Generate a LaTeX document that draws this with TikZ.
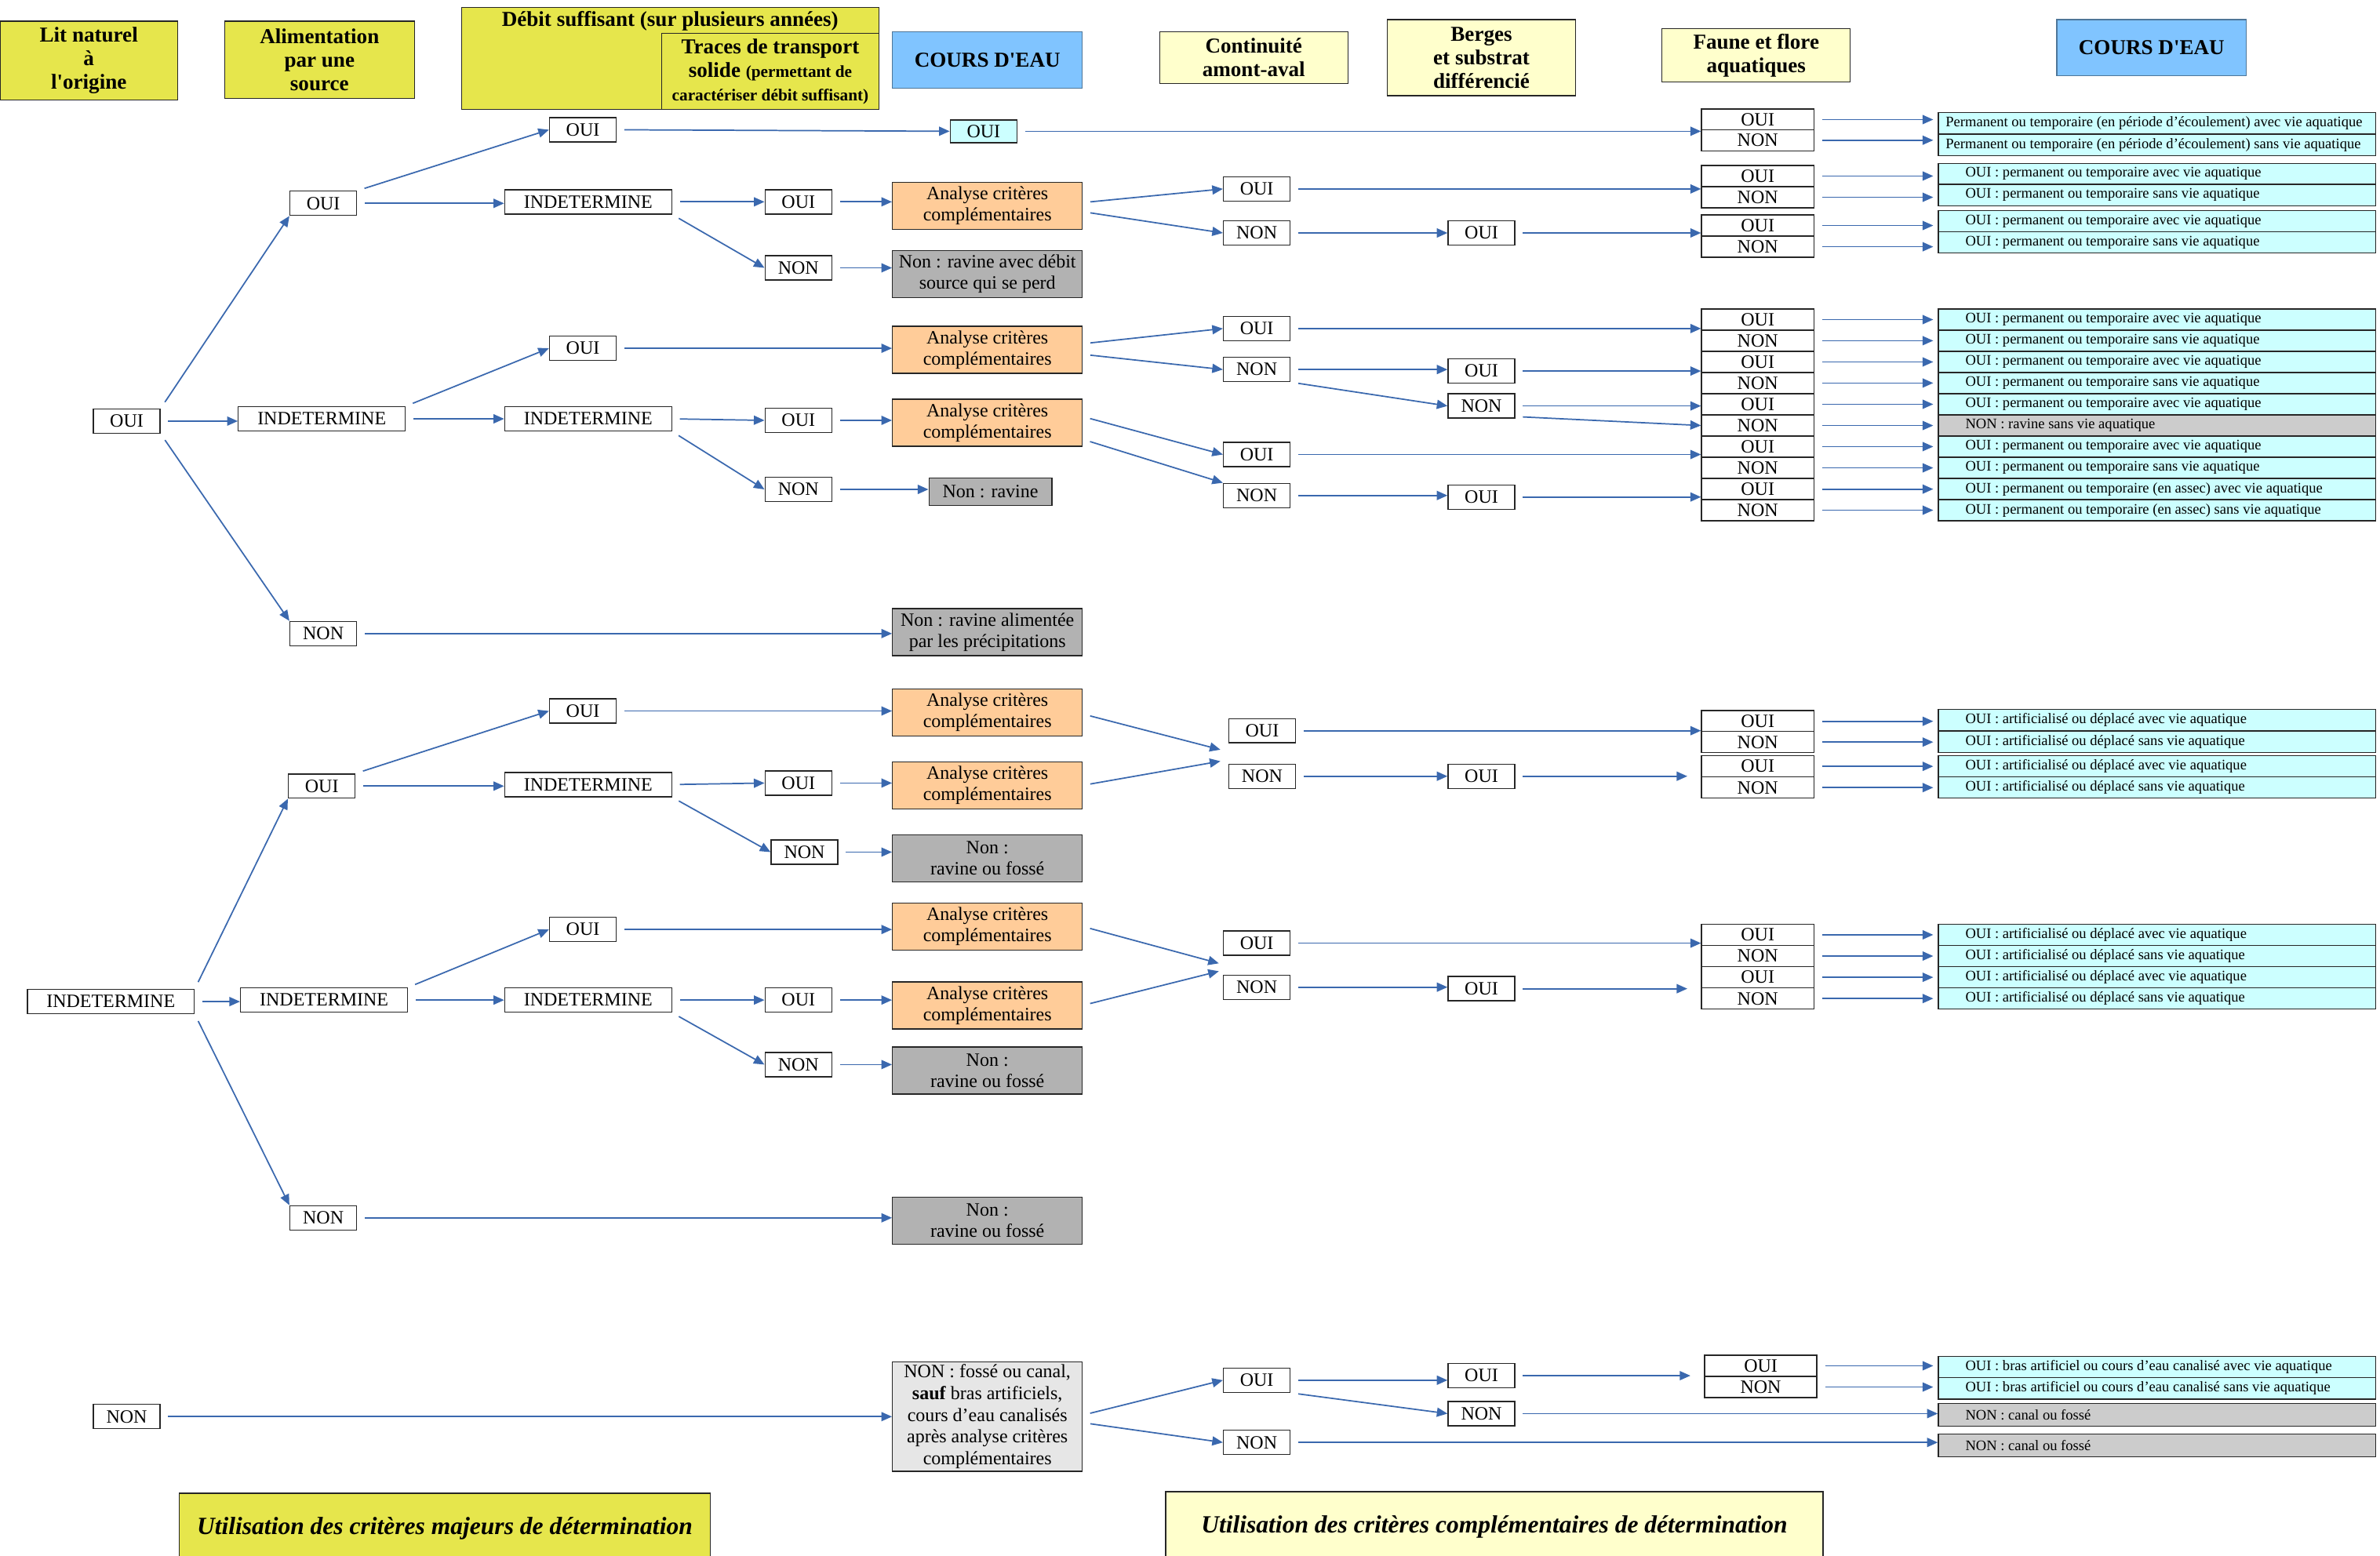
\documentclass[tikz,border=0pt]{standalone}
\usepackage{fontspec}
\setmainfont{Liberation Serif}
\usetikzlibrary{arrows.meta}
\definecolor{hy}{HTML}{E6E64C}
\definecolor{ly}{HTML}{FFFFCC}
\definecolor{hb}{HTML}{80C4FF}
\definecolor{org}{HTML}{FFCC99}
\definecolor{dg}{HTML}{B2B2B2}
\definecolor{cy}{HTML}{CCFFFF}
\definecolor{lg}{HTML}{CCCCCC}
\definecolor{vlg}{HTML}{E6E6E6}
\definecolor{ab}{HTML}{3A68AE}
\begin{document}
\begin{tikzpicture}[x=1pt,y=-1pt,
  box/.style={draw=black!85, line width=0.7pt, inner sep=0pt, align=center},
  hdr/.style={box, fill=hy, font=\fontsize{14}{15.5}\selectfont\bfseries},
  hdrl/.style={box, fill=ly, font=\fontsize{14}{15.5}\selectfont\bfseries},
  hdrb/.style={box, fill=hb, draw=hb!60!black, font=\fontsize{14}{15.5}\selectfont\bfseries},
  lbl/.style={box, fill=white, minimum width=44pt, minimum height=16pt, font=\fontsize{12.4}{14}\selectfont},
  ind/.style={lbl, minimum width=110pt},
  ana/.style={box, fill=org, minimum width=125pt, minimum height=31pt, font=\fontsize{12.4}{14}\selectfont},
  gry/.style={ana, fill=dg},
  fau/.style={box, fill=white, minimum width=74pt, minimum height=14pt, font=\fontsize{12.4}{14}\selectfont},
  res/.style={box, fill=cy, minimum width=288pt, minimum height=14pt, label={[anchor=west, inner sep=0pt, xshift=18pt, font=\fontsize{9.6}{11}\selectfont]west:{#1}}},
  resa/.style={box, fill=cy, minimum width=288pt, minimum height=14pt, label={[anchor=west, inner sep=0pt, xshift=5pt, font=\fontsize{9.6}{11}\selectfont]west:{#1}}},
  resg/.style={res={#1}, fill=lg},
  arr/.style={draw=ab, line width=0.9pt, -{Triangle[length=7pt,width=6pt]}, shorten <=5pt},
  arrs/.style={arr, shorten >=9pt},
]
\useasboundingbox (0,0) rectangle (1568,1025);

% ---------- headers ----------
\node[hdr, minimum width=117pt, minimum height=52pt] (hLit) at (58.5,40) {Lit naturel\\à\\l\textquotesingle origine};
\node[hdr, minimum width=125pt, minimum height=51pt] (hAli) at (210.5,39.5) {Alimentation\\par une\\source};
\node[hdr, minimum width=275pt, minimum height=67pt] (hDeb) at (441.5,38.5) {};
\node[font=\fontsize{14}{15.5}\selectfont\bfseries, inner sep=0pt] (hDebT) at (441.5,14) {Débit suffisant (sur plusieurs années)};
\node[hdr, minimum width=143pt, minimum height=50pt] (hTra) at (507.5,47) {Traces de transport\\solide {\fontsize{11}{13}\selectfont (permettant de}\\{\fontsize{11}{13}\selectfont caractériser débit suffisant)}};
\node[hdrb, minimum width=125pt, minimum height=37pt] (hCo1) at (650.5,39.5) {COURS D\textquotesingle EAU};
\node[hdrl, minimum width=124pt, minimum height=34pt] (hCon) at (826,38) {Continuité\\amont-aval};
\node[hdrl, minimum width=124pt, minimum height=50pt] (hBer) at (976,38) {Berges\\et substrat\\différencié};
\node[hdrl, minimum width=124pt, minimum height=35pt] (hFau) at (1157,36.5) {Faune et flore\\aquatiques};
\node[hdrb, minimum width=125pt, minimum height=37pt] (hCo2) at (1417.5,31.5) {COURS D\textquotesingle EAU};

% ---------- bottom legend ----------
\node[box, fill=hy, minimum width=350pt, minimum height=46pt, font=\fontsize{16.3}{18}\selectfont\bfseries\itshape] (bMaj) at (293,1007) {Utilisation des critères majeurs de détermination};
\node[box, fill=ly, minimum width=433pt, minimum height=46pt, font=\fontsize{16.3}{18}\selectfont\bfseries\itshape] (bCom) at (984.5,1006) {Utilisation des critères complémentaires de détermination};

% ---------- level 0 ----------
\node[lbl] (a0) at (83.5,277.5) {OUI};
\node[ind] (b0) at (73,660) {INDETERMINE};
\node[lbl] (c0) at (83.5,933.5) {NON};

% ---------- level 1 ----------
\node[lbl] (a1) at (213,134) {OUI};
\node[ind] (a2) at (212,276) {INDETERMINE};
\node[lbl] (a3) at (213,417.5) {NON};
\node[lbl] (b1n) at (212,518) {OUI};
\node[ind] (b2n) at (213.5,659) {INDETERMINE};
\node[lbl] (b3n) at (213,802.5) {NON};

% ---------- level 2 ----------
\node[lbl] (p1) at (384,85.5) {OUI};
\node[ind] (p2) at (387.5,133) {INDETERMINE};
\node[lbl] (p3) at (384,229.5) {OUI};
\node[ind] (p4) at (387.5,276) {INDETERMINE};
\node[lbl] (p5) at (384,468.5) {OUI};
\node[ind] (p6) at (387.5,517) {INDETERMINE};
\node[lbl] (p7) at (384,612.5) {OUI};
\node[ind] (p8) at (387.5,659) {INDETERMINE};

% ---------- level 3 ----------
\node[lbl] (q1) at (526,133) {OUI};
\node[lbl] (q2) at (526,176.5) {NON};
\node[lbl] (q3) at (526,277) {OUI};
\node[lbl] (q4) at (526,322.5) {NON};
\node[lbl] (q5) at (526,516) {OUI};
\node[lbl] (q6) at (530,561.5) {NON};
\node[lbl] (q7) at (526,659) {OUI};
\node[lbl] (q8) at (526,701.5) {NON};

% ---------- cours d'eau column ----------
\node[lbl, fill=cy, minimum height=15pt] (r1) at (648,86.5) {OUI};
\node[ana] (r2) at (650.5,135.5) {Analyse critères\\complémentaires};
\node[gry] (r3) at (650.5,180.5) {Non : ravine avec débit\\source qui se perd};
\node[ana] (r4) at (650.5,230.5) {Analyse critères\\complémentaires};
\node[ana] (r5) at (650.5,278.5) {Analyse critères\\complémentaires};
\node[gry, minimum width=81pt, minimum height=18pt] (r6) at (652.5,324) {Non : ravine};
\node[gry] (r7) at (650.5,416.5) {Non : ravine alimentée\\par les précipitations};
\node[ana] (r8) at (650.5,469.5) {Analyse critères\\complémentaires};
\node[ana] (r9) at (650.5,517.5) {Analyse critères\\complémentaires};
\node[gry] (r10) at (650.5,565.5) {Non :\\ravine ou fossé};
\node[ana] (r11) at (650.5,610.5) {Analyse critères\\complémentaires};
\node[ana] (r12) at (650.5,662.5) {Analyse critères\\complémentaires};
\node[gry] (r13) at (650.5,705.5) {Non :\\ravine ou fossé};
\node[gry] (r14) at (650.5,804.5) {Non :\\ravine ou fossé};
\node[gry, fill=vlg, minimum height=72pt, font=\fontsize{12.4}{14.3}\selectfont] (r15) at (650.5,933.5) {NON : fossé ou canal,\\\textbf{sauf} bras artificiels,\\cours d’eau canalisés\\après analyse critères\\complémentaires};

% ---------- continuité ----------
\node[lbl] (s1) at (828,124.5) {OUI};
\node[lbl] (s2) at (828,153.5) {NON};
\node[lbl] (s3) at (828,216.5) {OUI};
\node[lbl] (s4) at (828,243.5) {NON};
\node[lbl] (s5) at (828,299.5) {OUI};
\node[lbl] (s6) at (828,326.5) {NON};
\node[lbl] (s7) at (831.5,481.5) {OUI};
\node[lbl] (s8) at (831.5,511.5) {NON};
\node[lbl] (s9) at (828,621.5) {OUI};
\node[lbl] (s10) at (828,650.5) {NON};
\node[lbl] (s11) at (828,909.5) {OUI};
\node[lbl] (s12) at (828,950.5) {NON};

% ---------- berges ----------
\node[lbl] (t1) at (976,153.5) {OUI};
\node[lbl] (t2) at (976,244.5) {OUI};
\node[lbl] (t3) at (976,267.5) {NON};
\node[lbl] (t4) at (976,327.5) {OUI};
\node[lbl] (t5) at (976,511.5) {OUI};
\node[lbl] (t6) at (976,651.5) {OUI};
\node[lbl] (t7) at (976,906.5) {OUI};
\node[lbl] (t8) at (976,931.5) {NON};

% ---------- faune ----------
\foreach \n/\y/\t in {1/78.8/OUI,2/92.4/NON,3/116/OUI,4/130/NON,5/148.6/OUI,6/162.6/NON,
  7/210.6/OUI,8/224.5/NON,9/238.5/OUI,10/252.4/NON,11/266.4/OUI,12/280.4/NON,13/294.3/OUI,14/308.3/NON,15/322.3/OUI,16/336.2/NON,
  17/475.3/OUI,18/489/NON,19/505/OUI,20/519/NON,21/616/OUI,22/630/NON,23/644/OUI,24/658/NON}
  \node[fau] (f\n) at (1158,\y) {\t};
\node[fau] (f25) at (1160,900) {OUI};
\node[fau] (f26) at (1160,914) {NON};

% ---------- results ----------
\node[resa={Permanent ou temporaire (en période d’écoulement) avec vie aquatique}] (g1) at (1421,81.2) {};
\node[resa={Permanent ou temporaire (en période d’écoulement) sans vie aquatique}] (g2) at (1421,95.5) {};
\node[res={OUI : permanent ou temporaire avec vie aquatique}] (g3) at (1421,114.6) {};
\node[res={OUI : permanent ou temporaire sans vie aquatique}] (g4) at (1421,128.5) {};
\node[res={OUI : permanent ou temporaire avec vie aquatique}] (g5) at (1421,145.8) {};
\node[res={OUI : permanent ou temporaire sans vie aquatique}] (g6) at (1421,159.8) {};
\node[res={OUI : permanent ou temporaire avec vie aquatique}] (g7) at (1421,210.6) {};
\node[res={OUI : permanent ou temporaire sans vie aquatique}] (g8) at (1421,224.5) {};
\node[res={OUI : permanent ou temporaire avec vie aquatique}] (g9) at (1421,238.5) {};
\node[res={OUI : permanent ou temporaire sans vie aquatique}] (g10) at (1421,252.4) {};
\node[res={OUI : permanent ou temporaire avec vie aquatique}] (g11) at (1421,266.4) {};
\node[resg={NON : ravine sans vie aquatique}] (g12) at (1421,280.4) {};
\node[res={OUI : permanent ou temporaire avec vie aquatique}] (g13) at (1421,294.3) {};
\node[res={OUI : permanent ou temporaire sans vie aquatique}] (g14) at (1421,308.3) {};
\node[res={OUI : permanent ou temporaire (en assec) avec vie aquatique}] (g15) at (1421,322.3) {};
\node[res={OUI : permanent ou temporaire (en assec) sans vie aquatique}] (g16) at (1421,336.2) {};
\node[res={OUI : artificialisé ou déplacé avec vie aquatique}] (g17) at (1421,474.5) {};
\node[res={OUI : artificialisé ou déplacé sans vie aquatique}] (g18) at (1421,488.8) {};
\node[res={OUI : artificialisé ou déplacé avec vie aquatique}] (g19) at (1421,505) {};
\node[res={OUI : artificialisé ou déplacé sans vie aquatique}] (g20) at (1421,519) {};
\node[res={OUI : artificialisé ou déplacé avec vie aquatique}] (g21) at (1421,616) {};
\node[res={OUI : artificialisé ou déplacé sans vie aquatique}] (g22) at (1421,630) {};
\node[res={OUI : artificialisé ou déplacé avec vie aquatique}] (g23) at (1421,644) {};
\node[res={OUI : artificialisé ou déplacé sans vie aquatique}] (g24) at (1421,658) {};
\node[res={OUI : bras artificiel ou cours d’eau canalisé avec vie aquatique}] (g25) at (1421,900.8) {};
\node[res={OUI : bras artificiel ou cours d’eau canalisé sans vie aquatique}] (g26) at (1421,914.9) {};
\node[resg={NON : canal ou fossé}, minimum height=15pt] (g27) at (1421,932.2) {};
\node[resg={NON : canal ou fossé}, minimum height=15pt] (g28) at (1421,952.5) {};

% ---------- convergence points ----------
\coordinate (k1) at (804,494);
\coordinate (k2) at (804,501.6);
\coordinate (k3) at (803,634.8);
\coordinate (k4) at (803,640);

% ---------- connectors: level 0 -> 1 ----------
\draw[arr] (a0.north east) -- (a1.south west);
\draw[arr] (a0.east) -- (a0.east -| a2.west);
\draw[arr] (a0.south east) -- (a3.north west);
\draw[arr] (b0.north east) -- (b1n.south west);
\draw[arr] (b0.east) -- (b0.east -| b2n.west);
\draw[arr] (b0.south east) -- (b3n.north west);
\draw[arr] (c0.east) -- (c0.east -| r15.west);

% level 1 -> 2
\draw[arr] (a1.north east) -- (p1.west);
\draw[arr] (a1.east) -- (a1.east -| p2.west);
\draw[arr] (a2.north east) -- (p3.west);
\draw[arr] (a2.east) -- (p4.west);
\draw[arr] (a3.east) -- (a3.east -| r7.west);
\draw[arr] (b1n.north east) -- (p5.west);
\draw[arr] (b1n.east) -- (b1n.east -| p6.west);
\draw[arr] (b2n.north east) -- (p7.west);
\draw[arr] (b2n.east) -- (b2n.east -| p8.west);
\draw[arr] (b3n.east) -- (b3n.east -| r14.west);

% level 2 -> 3 -> cours d'eau
\draw[arr] (p1.east) -- (r1.west);
\draw[arr] (p2.east) -- (q1.west);
\draw[arr] (p2.south east) -- (q2.west);
\draw[arr] (q1.east) -- (q1.east -| r2.west);
\draw[arr] (q2.east) -- (q2.east -| r3.west);
\draw[arr] (p3.east) -- (p3.east -| r4.west);
\draw[arr] (p4.east) -- (q3.west);
\draw[arr] (p4.south east) -- (q4.west);
\draw[arr] (q3.east) -- (q3.east -| r5.west);
\draw[arr] (q4.east) -- (q4.east -| r6.west);
\draw[arr] (p5.east) -- (p5.east -| r8.west);
\draw[arr] (p6.east) -- (q5.west);
\draw[arr] (p6.south east) -- (q6.west);
\draw[arr] (q5.east) -- (q5.east -| r9.west);
\draw[arr] (q6.east) -- (q6.east -| r10.west);
\draw[arr] (p7.east) -- (p7.east -| r11.west);
\draw[arr] (p8.east) -- (q7.west);
\draw[arr] (p8.south east) -- (q8.west);
\draw[arr] (q7.east) -- (q7.east -| r12.west);
\draw[arr] (q8.east) -- (q8.east -| r13.west);

% cours d'eau -> continuité
\draw[arr] (r1.east) -- (r1.east -| f1.west);
\draw[arr] ([yshift=2pt]r2.east) -- (s1.west);
\draw[arr] ([yshift=-4pt]r2.east) -- (s2.west);
\draw[arr] ([yshift=4pt]r4.east) -- (s3.west);
\draw[arr] ([yshift=-3pt]r4.east) -- (s4.west);
\draw[arr] ([yshift=4pt]r5.east) -- (s5.west);
\draw[arr] ([yshift=-11pt]r5.east) -- (s6.north west);
\draw[arr] ([yshift=-1pt]r8.east) -- (k1);
\draw[arr] (r9.east) -- (k2);
\draw[arr] (r11.east) -- (k3);
\draw[arr] (r12.east) -- (k4);
\draw[arr] ([yshift=1pt]r15.east) -- (s11.west);
\draw[arr] ([yshift=-4pt]r15.east) -- (s12.west);

% continuité -> berges / faune
\draw[arr] (s1.east) -- (s1.east -| f3.west);
\draw[arr] (s2.east) -- (s2.east -| t1.west);
\draw[arr] (t1.east) -- (t1.east -| f5.west);
\draw[arr] (s3.east) -- (s3.east -| f7.west);
\draw[arr] (s4.east) -- (s4.east -| t2.west);
\draw[arr] (s4.south east) -- (t3.west);
\draw[arr] (t2.east) -- (t2.east -| f9.west);
\draw[arr] (t3.east) -- (t3.east -| f11.west);
\draw[arr] ([yshift=-7pt]t3.east) -- (f12.west);
\draw[arr] (s5.east) -- (s5.east -| f13.west);
\draw[arr] (s6.east) -- (s6.east -| t4.west);
\draw[arr] (t4.east) -- (t4.east -| f15.west);
\draw[arr] (s7.east) -- (s7.east -| f17.west);
\draw[arr] (s8.east) -- (s8.east -| t5.west);
\draw[arrs] (t5.east) -- (t5.east -| f19.west);
\draw[arr] (s9.east) -- (s9.east -| f21.west);
\draw[arr] (s10.east) -- (s10.east -| t6.west);
\draw[arrs] (t6.east) -- (t6.east -| f23.west);
\draw[arr] (s11.east) -- (s11.east -| t7.west);
\draw[arr] (s11.south east) -- (t8.west);
\draw[arrs] (t7.east) -- (t7.east -| f25.west);
\draw[arr] (t8.east) -- (t8.east -| g27.west);
\draw[arr] (s12.east) -- (s12.east -| g28.west);

% faune -> résultats
\foreach \n in {1,...,26}
  \draw[arr, shorten >=3pt] (f\n.east) -- (f\n.east -| g\n.west);
\end{tikzpicture}
\end{document}
